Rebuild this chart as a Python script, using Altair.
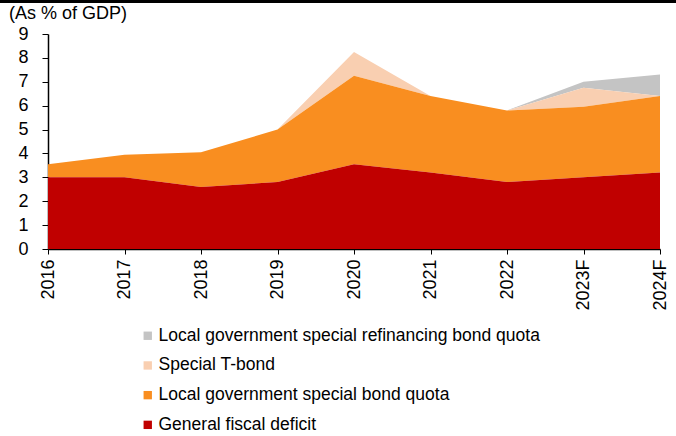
import altair as alt
import pandas as pd

years = ["2016", "2017", "2018", "2019", "2020", "2021", "2022", "2023F", "2024F"]
general_deficit = [3.0, 3.0, 2.6, 2.8, 3.55, 3.2, 2.8, 3.0, 3.2]
lg_special_bond = [0.55, 0.95, 1.45, 2.2, 3.7, 3.2, 3.0, 2.95, 3.2]
special_tbond = [0.0, 0.0, 0.0, 0.0, 1.0, 0.0, 0.0, 0.8, 0.0]
lg_refinancing = [0.0, 0.0, 0.0, 0.0, 0.0, 0.0, 0.0, 0.25, 0.9]

series_names = [
    "Local government special refinancing bond quota",
    "Special T-bond",
    "Local government special bond quota",
    "General fiscal deficit",
]
series_colors = ["#C4C4C4", "#F9CFB1", "#F98E20", "#C00000"]
series_values = [lg_refinancing, special_tbond, lg_special_bond, general_deficit]
stack_rank = [3, 2, 1, 0]

rows = []
for name, vals, rank in zip(series_names, series_values, stack_rank):
    for y, v in zip(years, vals):
        rows.append({"year": y, "series": name, "value": v, "rank": rank})
df = pd.DataFrame(rows)

FONT = "Liberation Sans"

area = alt.Chart(df).mark_area(opacity=1, strokeWidth=0).encode(
    x=alt.X("year:N", sort=years, scale=alt.Scale(type="point", padding=0),
            axis=alt.Axis(title=None, labelAngle=-90, labelFontSize=18, labelFont=FONT,
                          labelColor="black", domainColor="black", domainWidth=1.5,
                          tickColor="black", tickSize=5, labelPadding=5, grid=False)),
    y=alt.Y("value:Q", stack="zero",
            scale=alt.Scale(domain=[0, 9]),
            axis=alt.Axis(title=None, values=list(range(10)), labelFontSize=18, labelFont=FONT,
                          labelColor="black", domainColor="black", domainWidth=1.5,
                          tickColor="black", tickSize=6, labelPadding=14, grid=False)),
    color=alt.Color("series:N",
                    scale=alt.Scale(domain=series_names, range=series_colors),
                    legend=alt.Legend(title=None, orient="none", legendX=91, legendY=293,
                                      symbolType="square", symbolSize=70, symbolStrokeWidth=0,
                                      labelFontSize=17.5, labelFont=FONT, labelColor="black",
                                      rowPadding=10.7, labelOffset=2, labelLimit=600)),
    order=alt.Order("rank:Q", sort="ascending"),
)

top_rule = alt.Chart(df).mark_rule(color="black", strokeWidth=2.5).encode(
    x=alt.value(-48), x2=alt.value(628), y=alt.value(-33)
)

title_text = alt.Chart(pd.DataFrame({"t": ["(As % of GDP)"]})).mark_text(
    align="left", baseline="alphabetic", fontSize=18, font=FONT, color="black"
).encode(x=alt.value(-39), y=alt.value(-15), text="t:N")

chart = alt.layer(area, top_rule, title_text).properties(
    width=612, height=215,
    autosize=alt.AutoSizeParams(type="none"),
    padding={"left": 48, "top": 34, "right": 16, "bottom": 187},
).configure_view(stroke=None)

chart.save("out.html", embed_options={"renderer": "svg", "actions": False})
